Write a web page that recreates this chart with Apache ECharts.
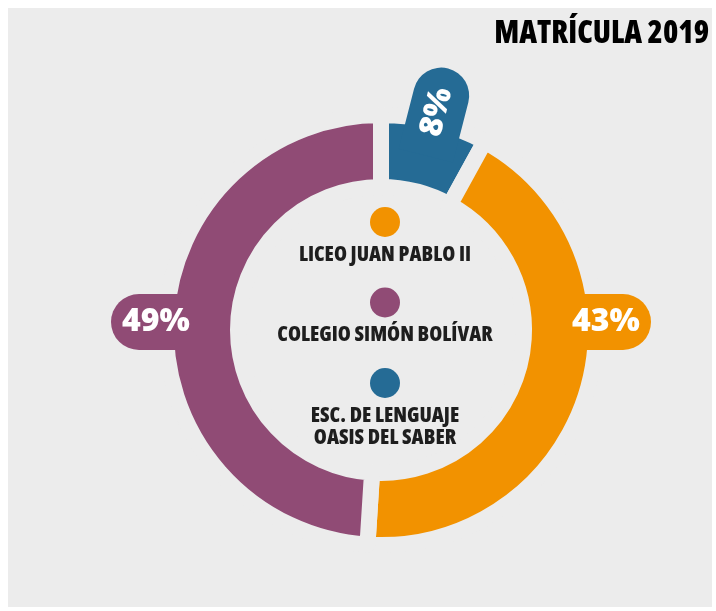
<!DOCTYPE html>
<html>
<head>
<meta charset="utf-8">
<script src="https://cdn.jsdelivr.net/npm/echarts@6/dist/echarts.min.js"></script>
<style>
  html, body { margin: 0; padding: 0; background: #fff; }
  #panel { position: absolute; left: 8px; top: 8px; right: 4px; bottom: 4px; background: #ececec; }
  #chart { position: absolute; left: 0; top: 0; width: 716px; height: 611px; }
</style>
</head>
<body>
<div id="panel"></div>
<div id="chart"></div>
<script>
// slices in clockwise order starting at 12 o'clock
const schools = ["ESC. DE LENGUAJE\nOASIS DEL SABER", "LICEO JUAN PABLO II", "COLEGIO SIMÓN BOLÍVAR"]
const shares = [8, 43, 49]
const legendOrder = ["LICEO JUAN PABLO II", "COLEGIO SIMÓN BOLÍVAR", "ESC. DE LENGUAJE\nOASIS DEL SABER"]

const colors = ["#256b95", "#f29200", "#904b75"]
const bg = "#ececec"
const CX = 381
const CY = 330
const LABEL_R = 225
const FONT = "'Open Sans', sans-serif"

const total = shares.reduce((a, b) => a + b, 0)

// angle (deg, clockwise from top) where the pill label sits:
// on the horizontal if the slice crosses 3 or 9 o'clock, else mid-slice
function labelAngle(i) {
  let before = 0
  for (let k = 0; k < i; k++) before += shares[k]
  const start = (before / total) * 360
  const end = ((before + shares[i]) / total) * 360
  for (const a of [90, 270]) {
    if (a > start && a < end) return a
  }
  return (start + end) / 2
}

const dot = (c) => ({ width: 30, height: 30, lineHeight: 30, borderRadius: 15, backgroundColor: c, align: "center" })

const chart = echarts.init(document.getElementById("chart"))

chart.setOption({
  animation: false,
  title: {
    text: "MATRÍCULA 2019",
    right: 7,
    top: 19,
    padding: 0,
    textStyle: {
      fontFamily: FONT,
      fontStyle: "condensed",
      fontWeight: 800,
      fontSize: 31,
      color: "#000"
    }
  },
  legend: {
    orient: "vertical",
    left: 259,
    top: 207,
    padding: 0,
    itemGap: 22,
    itemWidth: 0,
    itemHeight: 0,
    selectedMode: false,
    data: legendOrder,
    formatter(name) {
      const i = schools.indexOf(name)
      const lines = name.split("\n").map((l) => `{nm|${l}}`).join("\n")
      return `{dot${i}|}\n{sp|}\n${lines}`
    },
    textStyle: {
      rich: {
        dot0: dot(colors[0]),
        dot1: dot(colors[1]),
        dot2: dot(colors[2]),
        sp: { lineHeight: 7, height: 7, align: "center" },
        nm: {
          width: 240,
          align: "center",
          lineHeight: 22,
          fontSize: 21,
          fontStyle: "condensed",
          fontWeight: 800,
          fontFamily: FONT,
          color: "#1e1e1e"
        }
      }
    }
  },
  series: [
    {
      type: "pie",
      center: [CX, CY],
      radius: [143, 215],
      startAngle: 90,
      clockwise: true,
      emphasis: { disabled: true },
      itemStyle: {
        borderColor: bg,
        borderWidth: 16
      },
      label: {
        show: true,
        position: "inside",
        formatter: "{c}%",
        color: "#fff",
        fontFamily: FONT,
        // explicit stretch so the condensed title font doesn't leak in
        fontStyle: "semi-expanded",
        fontWeight: 800,
        fontSize: 32,
        width: 90,
        height: 56,
        lineHeight: 56,
        align: "center",
        verticalAlign: "middle"
      },
      labelLine: { show: false },
      labelLayout(p) {
        const deg = labelAngle(p.dataIndex)
        const a = (deg * Math.PI) / 180
        let rot = 90 - deg
        if (deg > 180) rot += 180
        return {
          x: CX + LABEL_R * Math.sin(a),
          y: CY - LABEL_R * Math.cos(a) - (deg % 90 === 0 ? 8 : 0),
          rotate: rot,
          align: "center",
          verticalAlign: "middle"
        }
      },
      data: schools.map((name, i) => ({
        name,
        value: shares[i],
        itemStyle: { color: colors[i] },
        label: {
          backgroundColor: colors[i],
          borderRadius: labelAngle(i) > 180 ? [28, 0, 0, 28] : [0, 28, 28, 0]
        }
      }))
    }
  ]
})
</script>
</body>
</html>
